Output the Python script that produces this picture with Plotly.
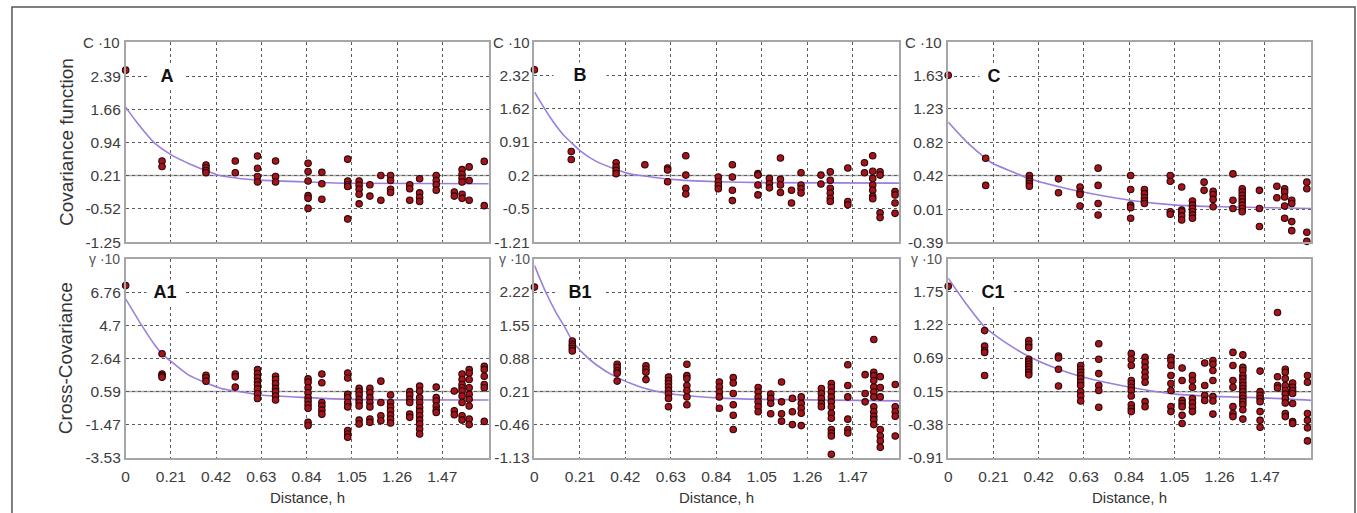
import plotly.graph_objects as go

# ---------------- data ----------------
X_TICKS = ["0", "0.21", "0.42", "0.63", "0.84", "1.05", "1.26", "1.47"]
X_MAX = 1.685

A_YTICKS = ["-1.25", "-0.52", "0.21", "0.94", "1.66", "2.39"]
A_YRANGE = [-1.25, 3.13]
A_LAGS = [0, 0.169, 0.373, 0.509, 0.612, 0.696, 0.847, 0.911, 1.031, 1.084, 1.134,
          1.185, 1.23, 1.319, 1.365, 1.442, 1.526, 1.562, 1.595, 1.665]
A_VALUES = [[2.52], [0.53, 0.41], [0.44, 0.38, 0.32, 0.27], [0.53, 0.27],
            [0.64, 0.37, 0.19, 0.07], [0.53, 0.19, 0.07],
            [0.48, 0.30, 0.09, -0.23, -0.29, -0.51], [0.28, 0.03, -0.31],
            [0.57, 0.09, 0.01, -0.03, -0.74], [0.09, 0.0, -0.09, -0.20, -0.41],
            [0.01, -0.24], [0.21, -0.33], [0.21, 0.10, -0.09, -0.16],
            [0.01, -0.08, -0.33], [0.14, -0.17, -0.27, -0.36],
            [0.21, 0.10, 0.01, -0.11], [-0.15, -0.24],
            [0.34, 0.24, 0.15, 0.07, -0.20, -0.29], [0.40, 0.10, -0.33], [0.52, -0.45]]
A_CURVE_X = [0, 0.05, 0.10, 0.135, 0.21, 0.30, 0.373, 0.427, 0.52, 0.627, 0.84, 1.05, 1.69]
A_CURVE_Y = [1.71, 1.39, 1.10, 0.92, 0.67, 0.46, 0.32, 0.22, 0.15, 0.11, 0.07, 0.04, 0.03]

A1_YTICKS = ["-3.53", "-1.47", "0.59", "2.64", "4.7", "6.76"]
A1_YRANGE = [-3.53, 8.83]
A1_LAGS = [0, 0.169, 0.373, 0.509, 0.612, 0.696, 0.847, 0.911, 1.031, 1.084, 1.134,
           1.185, 1.23, 1.319, 1.365, 1.442, 1.526, 1.562, 1.595, 1.665]
A1_VALUES = [[7.17], [2.93, 1.68, 1.58, 1.48], [1.60, 1.44, 1.23], [1.68, 1.50, 0.86],
             [1.95, 1.70, 1.45, 1.20, 1.00, 0.75, 0.45, 0.15],
             [1.54, 1.33, 1.07, 0.78, 0.58, 0.31, 0.06],
             [1.37, 1.17, 0.82, 0.51, 0.21, 0.00, -0.24, -0.45, -1.33, -1.53],
             [1.68, 1.13, -0.10, -0.31, -0.57, -0.82],
             [1.74, 1.43, 0.41, 0.21, -0.10, -0.37, -1.84, -2.05, -2.25],
             [0.78, 0.58, 0.37, 0.10, -0.10, -0.31, -1.19, -1.43],
             [0.78, 0.51, 0.21, -0.10, -0.37, -1.12, -1.33],
             [1.23, -0.10, -0.92, -1.23],
             [0.37, -0.10, -0.37, -0.61, -0.88, -1.12, -1.37],
             [0.58, 0.37, 0.10, -0.10, -0.82, -1.02],
             [0.92, 0.62, 0.21, -0.10, -0.41, -0.65, -0.92, -1.19, -1.43, -1.74, -2.05],
             [0.86, 0.21, 0.00, -0.31, -0.57, -0.71],
             [0.62, -0.61, -0.86],
             [1.68, 1.33, 1.02, 0.82, 0.62, 0.31, -0.10, -0.92, -1.19],
             [1.95, 1.74, 1.33, 0.82, 0.41, 0.10, -0.31, -1.12, -1.47],
             [2.15, 1.95, 1.54, 1.02, 0.82, -1.27]]
A1_CURVE_X = [0, 0.074, 0.135, 0.169, 0.21, 0.289, 0.373, 0.443, 0.509, 0.627, 0.84, 1.05, 1.69]
A1_CURVE_Y = [6.35, 4.71, 3.48, 2.93, 2.46, 1.64, 1.13, 0.78, 0.62, 0.37, 0.21, 0.10, 0.06]

B_YTICKS = ["-1.21", "-0.5", "0.2", "0.91", "1.62", "2.32"]
B_YRANGE = [-1.21, 3.02]
B_LAGS = [0, 0.170, 0.377, 0.51, 0.615, 0.699, 0.849, 0.914, 1.032, 1.085, 1.136,
          1.187, 1.231, 1.323, 1.366, 1.447, 1.524, 1.562, 1.596, 1.665]
B_VALUES = [[2.44], [0.71, 0.54], [0.47, 0.38, 0.31, 0.24], [0.43], [0.36, 0.32, 0.07],
            [0.62, 0.21, -0.07, -0.19], [0.17, 0.07, -0.01, -0.08],
            [0.43, 0.17, -0.11, -0.33], [0.24, 0.21, 0.0, -0.21], [0.14, 0.03, -0.06],
            [0.57, 0.12, 0.0, -0.16], [-0.11, -0.38], [0.26, 0.0, -0.08, -0.17],
            [0.21, 0.02], [0.28, 0.10, -0.07, -0.17, -0.28, -0.35], [0.36, -0.35, -0.42],
            [0.47, 0.26], [0.62, 0.29, 0.14, 0.0, -0.11, -0.24, -0.29],
            [0.28, 0.21, -0.59, -0.69], [-0.14, -0.21, -0.38, -0.60]]
B_CURVE_X = [0, 0.07, 0.132, 0.17, 0.21, 0.285, 0.377, 0.438, 0.635, 0.845, 1.05, 1.69]
B_CURVE_Y = [1.97, 1.45, 1.07, 0.90, 0.73, 0.50, 0.33, 0.24, 0.12, 0.07, 0.05, 0.04]

B1_YTICKS = ["-1.13", "-0.46", "0.21", "0.88", "1.55", "2.22"]
B1_YRANGE = [-1.13, 2.89]
B1_LAGS = [0, 0.175, 0.382, 0.515, 0.619, 0.704, 0.854, 0.918, 1.033, 1.091, 1.141,
           1.191, 1.232, 1.325, 1.371, 1.447, 1.527, 1.567, 1.597, 1.666]
B1_VALUES = [[2.32], [1.23, 1.17, 1.13, 1.08, 1.03], [0.76, 0.70, 0.63, 0.58, 0.42],
             [0.73, 0.66, 0.60, 0.45], [0.50, 0.43, 0.37, 0.30, 0.23, 0.16, 0.07, -0.10],
             [0.76, 0.53, 0.47, 0.33, 0.23, 0.10, -0.06], [0.40, 0.30, 0.20, 0.10, -0.13],
             [0.49, 0.38, 0.17, -0.06, -0.27, -0.56], [0.29, 0.20, 0.10, 0.0, -0.10, -0.20],
             [0.16, 0.07, -0.03, -0.24], [0.40, 0.0, -0.24, -0.39], [0.07, -0.20, -0.46],
             [0.10, -0.03, -0.13, -0.23, -0.48], [0.27, 0.17, 0.07, -0.03, -0.10],
             [0.37, 0.29, 0.20, 0.10, 0.0, -0.10, -0.23, -0.33, -0.56, -0.63, -0.69, -1.06],
             [0.75, 0.33, 0.10, -0.35, -0.56, -0.63], [0.55, 0.17, 0.0],
             [1.26, 0.60, 0.53, 0.43, 0.30, 0.20, 0.10, -0.10, -0.20, -0.29, -0.36, -0.46],
             [0.51, 0.29, 0.10, -0.56, -0.69, -0.79, -0.92],
             [0.35, -0.10, -0.20, -0.29, -0.69]]
B1_CURVE_X = [0, 0.052, 0.098, 0.144, 0.175, 0.213, 0.282, 0.382, 0.512, 0.635, 0.846, 1.05, 1.69]
B1_CURVE_Y = [2.76, 2.22, 1.82, 1.48, 1.23, 1.03, 0.76, 0.49, 0.27, 0.16, 0.08, 0.05, 0.02]

C_YTICKS = ["-0.39", "0.01", "0.42", "0.82", "1.23", "1.63"]
C_YRANGE = [-0.39, 2.04]
C_LAGS = [0, 0.174, 0.377, 0.512, 0.612, 0.696, 0.847, 0.911, 1.031, 1.084, 1.134,
          1.188, 1.23, 1.322, 1.365, 1.445, 1.526, 1.562, 1.595, 1.665]
C_VALUES = [[1.64], [0.63, 0.30], [0.42, 0.38, 0.35, 0.32, 0.29], [0.38, 0.21],
            [0.28, 0.22, 0.19, 0.05], [0.51, 0.30, 0.08, -0.06],
            [0.42, 0.25, 0.06, 0.03, -0.10], [0.25, 0.20, 0.15, 0.11, 0.08],
            [0.42, 0.35, -0.02, -0.05], [0.28, 0.0, -0.02, -0.07, -0.12],
            [0.11, 0.06, 0.02, -0.02, -0.06, -0.10], [0.34, 0.24],
            [0.23, 0.19, 0.13, 0.04], [0.44, 0.12, 0.02],
            [0.26, 0.22, 0.18, 0.14, 0.10, 0.06, 0.02, -0.02], [0.24, 0.02, -0.20],
            [0.29, 0.15], [0.26, 0.22, 0.16, 0.05, -0.10], [0.12, 0.08, -0.14, -0.25],
            [0.34, 0.26, -0.27, -0.38]]
C_CURVE_X = [0, 0.089, 0.174, 0.212, 0.304, 0.377, 0.52, 0.627, 0.842, 1.057, 1.265, 1.69]
C_CURVE_Y = [1.07, 0.82, 0.63, 0.56, 0.46, 0.38, 0.28, 0.22, 0.12, 0.06, 0.04, 0.02]

C1_YTICKS = ["-0.91", "-0.38", "0.15", "0.69", "1.22", "1.75"]
C1_YRANGE = [-0.91, 2.28]
C1_LAGS = [0, 0.169, 0.374, 0.512, 0.615, 0.699, 0.85, 0.914, 1.034, 1.086, 1.134,
           1.191, 1.229, 1.322, 1.368, 1.448, 1.529, 1.565, 1.599, 1.668]
C1_VALUES = [[1.84], [1.13, 0.88, 0.81, 0.78, 0.41],
             [0.97, 0.91, 0.86, 0.67, 0.63, 0.59, 0.55, 0.51, 0.46, 0.42],
             [0.72, 0.69, 0.51, 0.24],
             [0.57, 0.51, 0.46, 0.41, 0.36, 0.30, 0.25, 0.15, 0.08, 0.0],
             [0.92, 0.67, 0.44, 0.25, 0.17, -0.10],
             [0.76, 0.67, 0.57, 0.33, 0.28, 0.22, 0.17, 0.08, -0.06, -0.12, -0.17],
             [0.70, 0.62, 0.54, 0.46, 0.38, 0.30, -0.01, -0.09],
             [0.70, 0.65, 0.57, 0.41, 0.28, 0.17, -0.09, -0.17],
             [0.53, 0.33, 0.01, -0.04, -0.09, -0.23, -0.36],
             [0.41, 0.33, 0.22, 0.04, -0.03, -0.10, -0.17],
             [0.61, 0.25, 0.09, 0.01],
             [0.65, 0.59, 0.49, 0.33, 0.07, 0.0, -0.21],
             [0.78, 0.57, 0.33, 0.22, -0.09, -0.20, -0.25],
             [0.74, 0.54, 0.49, 0.41, 0.36, 0.30, 0.25, 0.20, 0.15, 0.09, 0.04, -0.01, -0.06, -0.14, -0.29],
             [0.48, 0.15, 0.09, 0.04, -0.01, -0.17, -0.31, -0.42],
             [1.42, 0.39, 0.25, 0.21],
             [0.51, 0.46, 0.36, 0.25, 0.17, 0.11, 0.04, -0.03, -0.20, -0.25],
             [0.29, 0.22, 0.17, 0.12, -0.04, -0.33, -0.36],
             [0.41, 0.30, -0.20, -0.31, -0.43, -0.64]]
C1_CURVE_X = [0, 0.077, 0.172, 0.212, 0.292, 0.377, 0.512, 0.63, 0.845, 1.053, 1.265, 1.47, 1.69]
C1_CURVE_Y = [1.97, 1.59, 1.18, 1.07, 0.88, 0.71, 0.51, 0.38, 0.22, 0.11, 0.07, 0.05, 0.01]

ROW_TITLES = ["Covariance function", "Cross-Covariance"]
X_TITLE = "Distance, h"

# ---------------- layout helpers ----------------
W, H = 1357, 513
def px(x): return x / W
def py(y): return 1 - y / H

COL_DOM = [(px(122), px(486)), (px(532), px(898)), (px(947), px(1311))]
ROW_DOM = [(py(246), py(43)), (py(465), py(263))]

panels = [
    dict(lab="A", lags=A_LAGS, vals=A_VALUES, cx=A_CURVE_X, cy=A_CURVE_Y, yt=A_YTICKS, yr=A_YRANGE, unit="C ·10", row=0, col=0, lx=0.19, lw=34),
    dict(lab="B", lags=B_LAGS, vals=B_VALUES, cx=B_CURVE_X, cy=B_CURVE_Y, yt=B_YTICKS, yr=B_YRANGE, unit="C ·10", row=0, col=1, lx=0.212, lw=50),
    dict(lab="C", lags=C_LAGS, vals=C_VALUES, cx=C_CURVE_X, cy=C_CURVE_Y, yt=C_YTICKS, yr=C_YRANGE, unit="C ·10", row=0, col=2, lx=0.213, lw=26),
    dict(lab="A1", lags=A1_LAGS, vals=A1_VALUES, cx=A1_CURVE_X, cy=A1_CURVE_Y, yt=A1_YTICKS, yr=A1_YRANGE, unit="γ ·10", row=1, col=0, lx=0.185, lw=34),
    dict(lab="B1", lags=B1_LAGS, vals=B1_VALUES, cx=B1_CURVE_X, cy=B1_CURVE_Y, yt=B1_YTICKS, yr=B1_YRANGE, unit="γ ·10", row=1, col=1, lx=0.212, lw=44),
    dict(lab="C1", lags=C1_LAGS, vals=C1_VALUES, cx=C1_CURVE_X, cy=C1_CURVE_Y, yt=C1_YTICKS, yr=C1_YRANGE, unit="γ ·10", row=1, col=2, lx=0.208, lw=38),
]

FONT = "Liberation Sans, Arial, sans-serif"
TICK_FONT = dict(family=FONT, size=15.5, color="#3c3c3c")
GRID = dict(showgrid=True, gridcolor="#5a5a5a", griddash="dot", gridwidth=1,
            showline=True, mirror=True, linecolor="#a6a6a6", linewidth=1.5,
            zeroline=False, ticks="", tickfont=TICK_FONT)

fig = go.Figure()
layout = dict(width=W, height=H, margin=dict(l=0, r=0, t=0, b=0),
              paper_bgcolor="white", plot_bgcolor="white", showlegend=False,
              font=dict(family=FONT))
annotations = []
shapes = []

for i, p in enumerate(panels):
    n = i + 1
    xs = "" if n == 1 else str(n)
    xa, ya = "x" + xs, "y" + xs
    yvals = [float(t) for t in p["yt"]]
    layout["xaxis" + xs] = dict(domain=list(COL_DOM[p["col"]]), anchor=ya, range=[0, X_MAX],
                                tickvals=[float(t) for t in X_TICKS], ticktext=X_TICKS,
                                showticklabels=(p["row"] == 1), ticklabelstandoff=4, **GRID)
    layout["yaxis" + xs] = dict(domain=list(ROW_DOM[p["row"]]), anchor=xa, range=p["yr"],
                                tickvals=yvals, ticktext=p["yt"], **GRID)
    # solid reference line at the third tick level
    shapes.append(dict(type="line", xref=xa + " domain", yref=ya, x0=0, x1=1,
                       y0=yvals[2], y1=yvals[2], layer="below",
                       line=dict(color="#ababab", width=1.5)))
    # panel label
    annotations.append(dict(x=p["lx"], y=yvals[5], xref=xa, yref=ya, text="<b>%s</b>" % p["lab"],
                            showarrow=False, bgcolor="white", width=p["lw"], height=22,
                            font=dict(family=FONT, size=18, color="#111111")))
    # model curve
    fig.add_trace(go.Scatter(x=p["cx"], y=p["cy"], mode="lines", xaxis=xa, yaxis=ya,
                             line=dict(color="#9b7fdc", width=1.6, shape="spline", smoothing=0.6),
                             hoverinfo="skip"))
    # experimental points
    xpts, ypts = [], []
    for lag, vals in zip(p["lags"], p["vals"]):
        for v in vals:
            xpts.append(lag)
            ypts.append(v)
    fig.add_trace(go.Scatter(x=xpts, y=ypts, mode="markers", xaxis=xa, yaxis=ya, cliponaxis=False,
                             marker=dict(size=6.5, color="#a3141c",
                                         line=dict(color="#2e0606", width=1.1))))
    # unit label at the top of the axis
    left_px = [118, 530, 943][p["col"]]
    top_px = [43, 263][p["row"]]
    annotations.append(dict(x=px(left_px), y=py(top_px), xref="paper", yref="paper",
                            xanchor="right", yanchor="middle", text=p["unit"], showarrow=False,
                            font=dict(family=FONT, size=15 if p["row"] == 0 else 14,
                                      color="#3c3c3c" if p["row"] == 0 else "#555555")))

# row titles
for r, t in enumerate(ROW_TITLES):
    yc = (ROW_DOM[r][0] + ROW_DOM[r][1]) / 2
    annotations.append(dict(x=px(62), y=yc, xref="paper", yref="paper", text=t, textangle=-90,
                            showarrow=False, xanchor="center", yanchor="middle",
                            font=dict(family=FONT, size=19, color="#333333")))
# x titles
for c in range(3):
    xc = (COL_DOM[c][0] + COL_DOM[c][1]) / 2
    annotations.append(dict(x=xc, y=py(505), xref="paper", yref="paper", text=X_TITLE,
                            showarrow=False, xanchor="center", yanchor="middle",
                            font=dict(family=FONT, size=15, color="#333333")))

# outer frame
shapes.append(dict(type="rect", xref="paper", yref="paper", x0=px(8), x1=px(1355),
                   y0=py(560), y1=py(7), line=dict(color="#555555", width=1.5),
                   fillcolor="rgba(0,0,0,0)", layer="below"))

layout["annotations"] = annotations
layout["shapes"] = shapes
fig.update_layout(**layout)

fig.write_html("out.html", config={"displayModeBar": False},
               post_script="document.body.style.margin='0px';document.body.style.overflow='hidden';")
